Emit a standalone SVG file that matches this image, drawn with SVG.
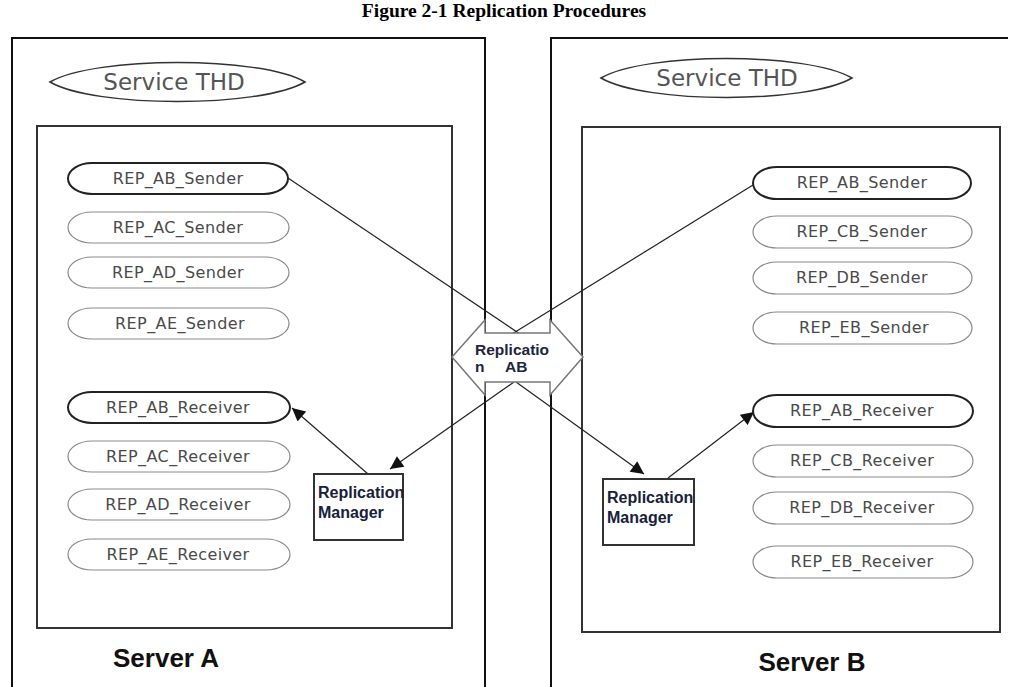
<svg xmlns="http://www.w3.org/2000/svg" width="1010" height="687" viewBox="0 0 1010 687">
<style>
.outer{fill:none;stroke:#111;stroke-width:2}
.inner{fill:none;stroke:#333;stroke-width:2}
.pill{fill:#fff;stroke:#8a8a8a;stroke-width:1.2}
.pillb{fill:#fff;stroke:#222;stroke-width:2}
.lbl{font-family:"DejaVu Sans",Verdana,sans-serif;font-size:16px;letter-spacing:0.4px;fill:#4a4a4a;text-anchor:middle}
.svc{font-family:"DejaVu Sans",Verdana,sans-serif;font-size:23px;fill:#555;text-anchor:middle}
.mgr{fill:#fff;stroke:#333;stroke-width:2}
.mgrt{font-family:"Liberation Sans",Arial,sans-serif;font-weight:bold;font-size:16px;fill:#17213a}
.srv{font-family:"Liberation Sans",Arial,sans-serif;font-weight:bold;font-size:26px;fill:#111;text-anchor:middle}
.conn{fill:none;stroke:#222;stroke-width:1.2}
.arrowT{font-family:"Liberation Sans",Arial,sans-serif;font-weight:bold;font-size:15.5px;fill:#1c2540}
</style>
<defs>
<marker id="ah" viewBox="0 0 10 10" refX="10" refY="5" markerWidth="14" markerHeight="13" markerUnits="userSpaceOnUse" orient="auto">
<path d="M0,0 L10,5 L0,10 Z" fill="#111"/>
</marker>
</defs>
<text x="504" y="17" font-family="Liberation Serif,'Times New Roman',serif" font-weight="bold" font-size="19.5" text-anchor="middle" fill="#000">Figure 2-1 Replication Procedures</text>

<g id="serverA">
<path class="outer" d="M12,687 V38 H485 V687"/>
<rect class="inner" x="37" y="126" width="415" height="502"/>
<text class="srv" x="166" y="667">Server A</text>
</g>
<g id="serverB">
<path class="outer" d="M551,687 V38 H1008"/>
<rect class="inner" x="582" y="127" width="418" height="505"/>
<text class="srv" x="812" y="671">Server B</text>
</g>

<g id="serviceA"><path d="M50,82 C95,56 260,56 305,82 C260,108 95,108 50,82 Z" fill="#fff" stroke="#333" stroke-width="1.5"/><text class="svc" x="174" y="90">Service THD</text></g>
<g id="serviceB"><path d="M601,78 C646,52 807,52 852,78 C807,104 646,104 601,78 Z" fill="#fff" stroke="#333" stroke-width="1.5"/><text class="svc" x="727" y="86">Service THD</text></g>

<g id="connectors">
<line class="conn" x1="288" y1="178" x2="520" y2="334"/>
<line class="conn" x1="753" y1="185" x2="512" y2="334"/>
<line class="conn" x1="514" y1="382" x2="390" y2="469" marker-end="url(#ah)"/>
<line class="conn" x1="516" y1="382" x2="644" y2="474" marker-end="url(#ah)"/>
<line class="conn" x1="368" y1="474" x2="292" y2="408" marker-end="url(#ah)"/>
<line class="conn" x1="668" y1="478" x2="754" y2="412" marker-end="url(#ah)"/>
</g>

<g id="replicationAB">
<path d="M452,357 L485,320 L485,333 L550,333 L550,320 L583,357 L550,395 L550,382 L485,382 L485,395 Z" fill="#fff" stroke="#777" stroke-width="1.5"/>
<text class="arrowT" x="475" y="355">Replicatio</text>
<text class="arrowT" x="475" y="372">n<tspan x="505">AB</tspan></text>
</g>

<g id="A_AB_Sender"><rect class="pillb" x="68" y="163" width="220" height="31" rx="24" ry="15.5"/><text class="lbl" x="178" y="184">REP_AB_Sender</text></g>
<g id="A_AC_Sender"><rect class="pill" x="68" y="212" width="221" height="31" rx="24" ry="15.5"/><text class="lbl" x="178" y="233">REP_AC_Sender</text></g>
<g id="A_AD_Sender"><rect class="pill" x="68" y="257" width="221" height="31" rx="24" ry="15.5"/><text class="lbl" x="178" y="278">REP_AD_Sender</text></g>
<g id="A_AE_Sender"><rect class="pill" x="68" y="308" width="221" height="31" rx="24" ry="15.5"/><text class="lbl" x="180" y="329">REP_AE_Sender</text></g>
<g id="A_AB_Receiver"><rect class="pillb" x="68" y="392" width="222" height="31" rx="24" ry="15.5"/><text class="lbl" x="178" y="413">REP_AB_Receiver</text></g>
<g id="A_AC_Receiver"><rect class="pill" x="68" y="441" width="222" height="31" rx="24" ry="15.5"/><text class="lbl" x="178" y="462">REP_AC_Receiver</text></g>
<g id="A_AD_Receiver"><rect class="pill" x="68" y="489" width="222" height="31" rx="24" ry="15.5"/><text class="lbl" x="178" y="510">REP_AD_Receiver</text></g>
<g id="A_AE_Receiver"><rect class="pill" x="68" y="539" width="222" height="31" rx="24" ry="15.5"/><text class="lbl" x="178" y="560">REP_AE_Receiver</text></g>

<g id="B_AB_Sender"><rect class="pillb" x="753" y="167" width="218" height="32" rx="24" ry="16"/><text class="lbl" x="862" y="188">REP_AB_Sender</text></g>
<g id="B_CB_Sender"><rect class="pill" x="753" y="216" width="219" height="32" rx="24" ry="16"/><text class="lbl" x="862" y="237">REP_CB_Sender</text></g>
<g id="B_DB_Sender"><rect class="pill" x="753" y="262" width="219" height="32" rx="24" ry="16"/><text class="lbl" x="862" y="283">REP_DB_Sender</text></g>
<g id="B_EB_Sender"><rect class="pill" x="753" y="312" width="219" height="32" rx="24" ry="16"/><text class="lbl" x="864" y="333">REP_EB_Sender</text></g>
<g id="B_AB_Receiver"><rect class="pillb" x="753" y="395" width="220" height="32" rx="24" ry="16"/><text class="lbl" x="862" y="416">REP_AB_Receiver</text></g>
<g id="B_CB_Receiver"><rect class="pill" x="753" y="445" width="220" height="32" rx="24" ry="16"/><text class="lbl" x="862" y="466">REP_CB_Receiver</text></g>
<g id="B_DB_Receiver"><rect class="pill" x="753" y="492" width="220" height="32" rx="24" ry="16"/><text class="lbl" x="862" y="513">REP_DB_Receiver</text></g>
<g id="B_EB_Receiver"><rect class="pill" x="753" y="546" width="220" height="32" rx="24" ry="16"/><text class="lbl" x="862" y="567">REP_EB_Receiver</text></g>

<g id="managerA"><rect class="mgr" x="314" y="474" width="89" height="66"/><text class="mgrt" x="318" y="498">Replication</text><text class="mgrt" x="318" y="518">Manager</text></g>
<g id="managerB"><rect class="mgr" x="603" y="479" width="91" height="66"/><text class="mgrt" x="607" y="503">Replication</text><text class="mgrt" x="607" y="523">Manager</text></g>
</svg>
